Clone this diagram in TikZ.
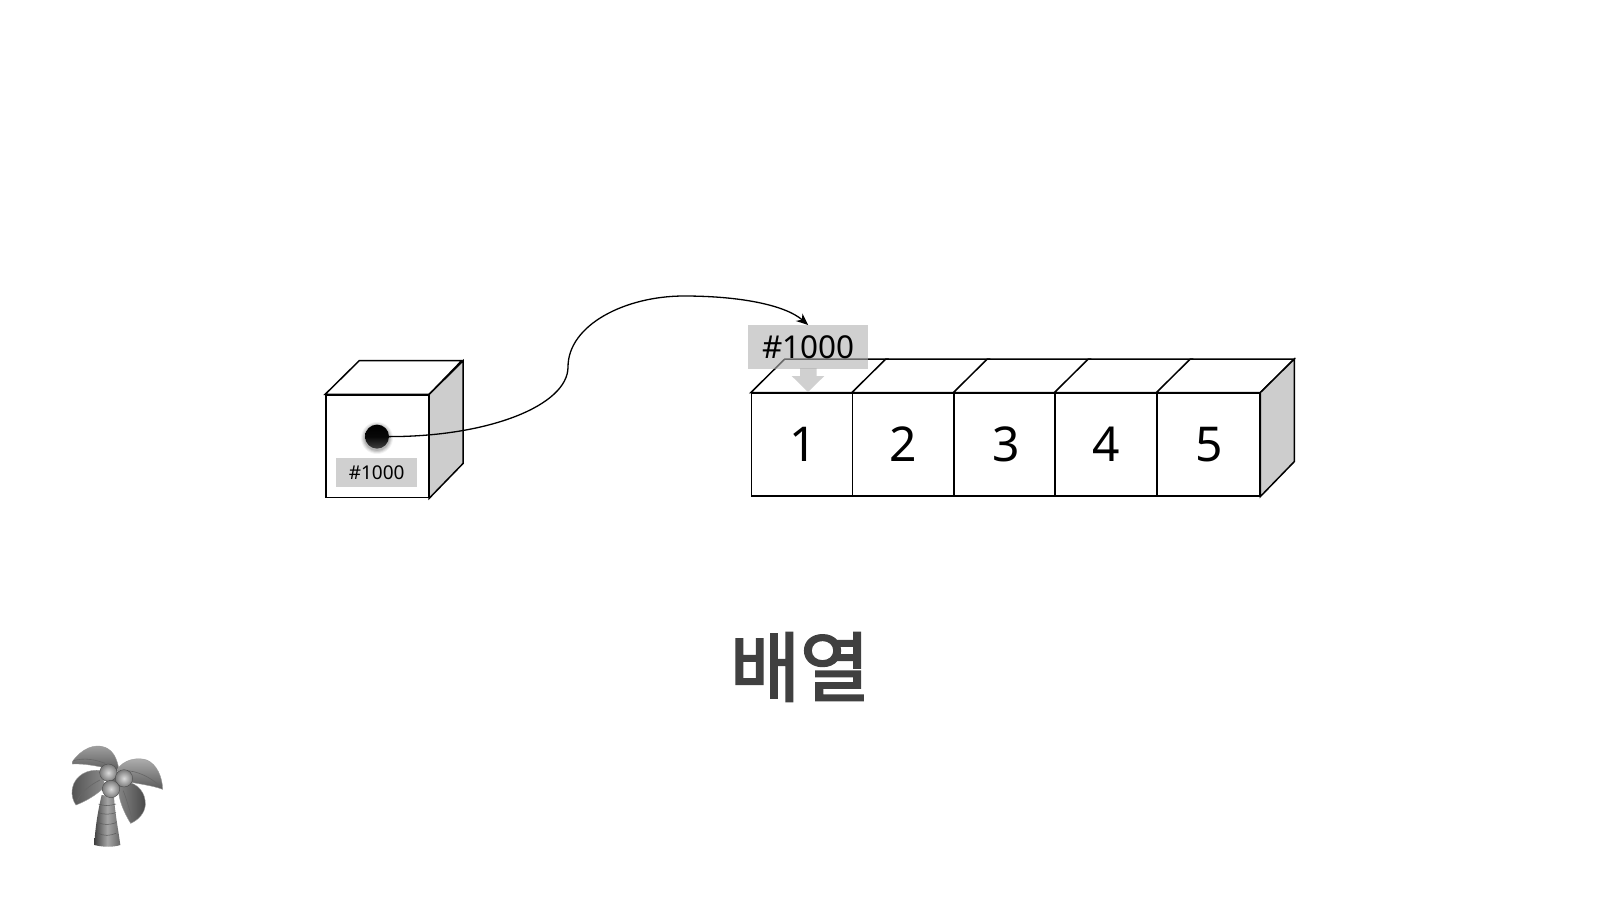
\documentclass[tikz,border=0pt]{standalone}
\usepackage{fontspec}
\setmainfont{Noto Sans}
\newfontfamily\krfont[FakeBold=2.5]{Noto Sans CJK KR}
\usetikzlibrary{arrows.meta,calc}
\definecolor{sidegray}{HTML}{CDCDCD}
\definecolor{labelgray}{HTML}{D0D0D0}
\definecolor{veilgray}{HTML}{B1B1B1}
\definecolor{titlegray}{HTML}{404040}
\tikzset{
  edge/.style={draw=black,line width=1.5pt,line join=miter},
  cellbox/.style={edge,fill=white,minimum height=102.5pt,inner sep=0pt,font=\fontsize{48}{48}\selectfont,text=black},
  sideface/.style={edge,fill=sidegray},
  topface/.style={edge,fill=white},
  tinylabel/.style={fill=labelgray,minimum width=81pt,minimum height=29pt,inner sep=0pt,font=\fontsize{19}{19}\selectfont},
  addrlabel/.style={fill=veilgray,fill opacity=.6,text opacity=1,minimum width=120pt,minimum height=44pt,inner sep=0pt,font=\fontsize{31.5}{32}\selectfont},
  leaf/.style={draw=black!40,line width=.4pt},
  vein/.style={draw=black!60,line width=.6pt},
  nut/.style={inner color=black!14,outer color=black!52,draw=black!70,line width=.4pt},
}
\begin{document}
\begin{tikzpicture}[x=1pt,y=-1pt]
\useasboundingbox (0,0) rectangle (1600,900);
\fill[white] (0,0) rectangle (1600,900);
% single cube
\node[cellbox,minimum width=102.5pt,anchor=north west] (cube) at (325.2,394.3) {};
\draw[topface] (cube.north west) -- ++(34,-33.6) -- ++(102.5,0) -- (cube.north east) -- cycle;
\draw[sideface] (cube.north east) -- ++(34,-33.6) -- ++(0,102.6) -- (cube.south east) -- cycle;
\node[tinylabel] (small) at (376.7,472.5) {\#1000};
\foreach \r/\o in {16/.05,15/.07,14/.09,13/.11}
  \fill[black,opacity=\o] (377,438) circle[radius=\r pt];
\shade[top color=black,bottom color=black!75,middle color=black!97] (377,436.6) circle[radius=12pt];
\node[circle,minimum size=24pt,inner sep=0pt] (ball) at (377,436.6) {};
% array
\foreach \i/\xa/\xb/\tx in {1/750.8/851.8/3,2/851.8/953.3/0,3/953.3/1054.3/3,4/1054.3/1156.3/0,5/1156.3/1258.8/2}{
  \pgfmathsetmacro\w{\xb-\xa}
  \node[cellbox,minimum width=\w pt,anchor=north west,text depth=0pt] (c\i) at (\xa,392.6) {\hspace*{\tx pt}\i};
}
\foreach \i in {1,...,5}
  \draw[topface] (c\i.north west) -- ++(34,-33.6) -- ($(c\i.north east)+(34,-33.6)$) -- (c\i.north east) -- cycle;
\draw[sideface] (c5.north east) -- ++(34,-33.6) -- ++(0,102.6) -- (c5.south east) -- cycle;
% pointer
\fill[labelgray] (800,368) -- (816.7,368) -- (816.7,376) -- (824.3,376) -- (808,392) -- (791.7,376) -- (800,376) -- cycle;
\node[addrlabel] (addr) at (808.2,347.2) {\#1000};
\draw[line width=1.3pt,-{Stealth[length=12pt,width=10pt]}] (ball.east) .. controls (490,436.6) and (568,405) .. (568,367)
   .. controls (568,325) and (625,296) .. (684,296)
   .. controls (740,296) and (785,305) .. (addr.north);
% title
\node[text=titlegray,font=\krfont\fontsize{76}{76}\selectfont,inner sep=0pt] (title) at (800,667) {배열};
% palm tree
\begin{scope}[shift={(40,730)},x=.3333pt,y=-.3333pt]
  \shade[left color=black!75,right color=black!60,middle color=black!35] (185,195) .. controls (172,250) and (165,300) .. (163,345)
     .. controls (190,352) and (220,352) .. (241,345) .. controls (235,300) and (225,250) .. (222,200) -- cycle;
  \foreach \y/\b in {222/6,248/6,278/7,310/8}
    \draw[black!65,line width=.5pt] (175,\y) .. controls (190,\y+\b) and (210,\y+\b) .. (228,\y);
  \shade[leaf,top color=black!35,bottom color=black!65] (97,95) .. controls (125,55) and (165,40) .. (195,52) .. controls (220,62) and (232,85) .. (238,125)
     .. controls (195,112) and (140,100) .. (97,102) -- cycle;
  \draw[vein] (100,92) .. controls (135,82) and (170,90) .. (195,100);
  \shade[leaf,top color=black!30,bottom color=black!65] (232,118) .. controls (250,90) and (290,80) .. (320,90) .. controls (350,102) and (367,140) .. (368,178)
     .. controls (335,165) and (280,160) .. (240,150) -- cycle;
  \draw[vein] (255,122) .. controls (290,122) and (330,140) .. (362,170);
  \shade[leaf,left color=black!68,right color=black!45] (185,122) .. controls (145,115) and (105,135) .. (97,175) .. controls (93,195) and (100,215) .. (108,225)
     .. controls (135,215) and (170,195) .. (195,170) -- cycle;
  \draw[vein] (112,212) .. controls (125,185) and (150,165) .. (180,150);
  \shade[leaf,left color=black!48,right color=black!72] (258,155) .. controls (295,160) and (318,190) .. (316,225) .. controls (314,250) and (295,270) .. (272,280)
     .. controls (250,245) and (235,205) .. (235,175) -- cycle;
  \draw[vein] (250,182) .. controls (262,215) and (272,250) .. (278,272);
  \fill[black!60] (225,150) circle[radius=26];
  \shade[nut] (205,128) circle[radius=26];
  \shade[nut] (252,145) circle[radius=26];
  \shade[nut] (213,177) circle[radius=26];
\end{scope}
\end{tikzpicture}
\end{document}
